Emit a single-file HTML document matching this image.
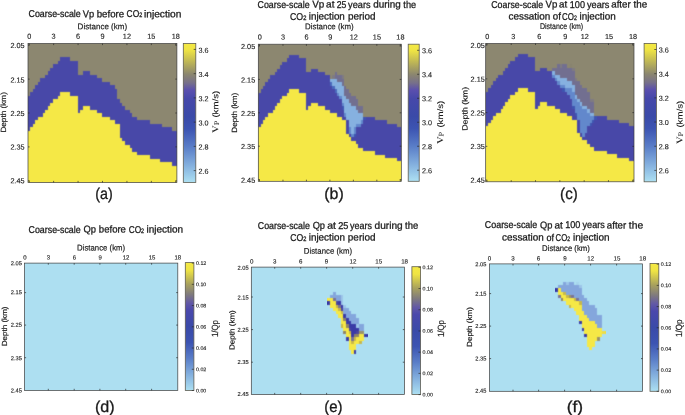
<!DOCTYPE html>
<html><head><meta charset="utf-8"><title>Coarse-scale Vp and Qp</title>
<style>
html,body{margin:0;padding:0;background:#fff;}
body{width:685px;height:415px;overflow:hidden;font-family:"Liberation Sans",sans-serif;}
svg{display:block;}
text{font-family:"Liberation Sans",sans-serif;}
</style></head><body>
<svg width="685" height="415" viewBox="0 0 685 415" style="will-change:transform">
<rect width="685" height="415" fill="#ffffff"/>
<defs>
<filter id="bl" x="-2%" y="-2%" width="104%" height="104%" color-interpolation-filters="sRGB"><feConvolveMatrix order="3" kernelMatrix="1 4 1 4 16 4 1 4 1" divisor="36" edgeMode="duplicate" preserveAlpha="false"/></filter>
<linearGradient id="gv" x1="0" y1="0" x2="0" y2="1">
<stop offset="0.0000" stop-color="#f4e944"/>
<stop offset="0.0464" stop-color="#efe444"/>
<stop offset="0.1339" stop-color="#bdb556"/>
<stop offset="0.2213" stop-color="#8b866f"/>
<stop offset="0.2826" stop-color="#77708a"/>
<stop offset="0.3351" stop-color="#5a4fae"/>
<stop offset="0.3963" stop-color="#4648aa"/>
<stop offset="0.5276" stop-color="#3a4aa8"/>
<stop offset="0.6150" stop-color="#3c54b2"/>
<stop offset="0.7463" stop-color="#5a7ec8"/>
<stop offset="0.8775" stop-color="#84b0de"/>
<stop offset="1.0000" stop-color="#ade0f2"/>
</linearGradient>
<linearGradient id="gq" x1="0" y1="0" x2="0" y2="1">
<stop offset="0.0000" stop-color="#f4e944"/>
<stop offset="0.0583" stop-color="#efe444"/>
<stop offset="0.1667" stop-color="#a9a25c"/>
<stop offset="0.2500" stop-color="#7f7a7e"/>
<stop offset="0.3167" stop-color="#6258a6"/>
<stop offset="0.3750" stop-color="#4a48ac"/>
<stop offset="0.5000" stop-color="#3a4aa8"/>
<stop offset="0.6250" stop-color="#3c54b2"/>
<stop offset="0.7500" stop-color="#5a7ec8"/>
<stop offset="0.8750" stop-color="#84b0de"/>
<stop offset="1.0000" stop-color="#ade0f2"/>
</linearGradient>
</defs>
<g>
<clipPath id="c28"><rect x="28" y="43.5" width="148.9" height="139"/></clipPath>
<g clip-path="url(#c28)"><g filter="url(#bl)">
<rect x="25" y="40.5" width="154.9" height="145" fill="#8c8770"/>
<path d="M27 183.5 L27 96 L27 96 L30 96 L30 92 L33 92 L33 89 L35 89 L35 85 L38 85 L38 82 L40 82 L40 78 L43 78 L43 78 L45 78 L45 75 L48 75 L48 71 L50 71 L50 68 L53 68 L53 64 L55 64 L55 64 L58 64 L58 61 L60 61 L60 57 L63 57 L63 57 L65 57 L65 57 L68 57 L68 57 L70 57 L70 61 L73 61 L73 61 L75 61 L75 61 L78 61 L78 75 L80 75 L80 75 L83 75 L83 71 L85 71 L85 71 L88 71 L88 71 L90 71 L90 75 L93 75 L93 75 L95 75 L95 75 L97 75 L97 78 L100 78 L100 78 L102 78 L102 82 L105 82 L105 82 L107 82 L107 82 L110 82 L110 85 L112 85 L112 85 L115 85 L115 89 L117 89 L117 99 L120 99 L120 103 L122 103 L122 106 L125 106 L125 110 L127 110 L127 110 L130 110 L130 113 L132 113 L132 117 L135 117 L135 117 L137 117 L137 120 L140 120 L140 120 L142 120 L142 120 L145 120 L145 120 L147 120 L147 120 L150 120 L150 124 L152 124 L152 124 L155 124 L155 124 L157 124 L157 124 L160 124 L160 124 L162 124 L162 127 L164 127 L164 127 L167 127 L167 127 L169 127 L169 127 L172 127 L172 131 L174 131 L174 131 L178 131 L178 183.5Z" fill="#4848a8"/>
<path d="M27 183.5 L27 131 L27 131 L30 131 L30 127 L33 127 L33 124 L35 124 L35 120 L38 120 L38 117 L40 117 L40 117 L43 117 L43 113 L45 113 L45 110 L48 110 L48 106 L50 106 L50 103 L53 103 L53 99 L55 99 L55 99 L58 99 L58 96 L60 96 L60 92 L63 92 L63 92 L65 92 L65 92 L68 92 L68 92 L70 92 L70 96 L73 96 L73 96 L75 96 L75 96 L78 96 L78 113 L80 113 L80 110 L83 110 L83 106 L85 106 L85 106 L88 106 L88 106 L90 106 L90 110 L93 110 L93 110 L95 110 L95 110 L97 110 L97 113 L100 113 L100 113 L102 113 L102 117 L105 117 L105 117 L107 117 L107 117 L110 117 L110 120 L112 120 L112 120 L115 120 L115 124 L117 124 L117 124 L120 124 L120 138 L122 138 L122 141 L125 141 L125 145 L127 145 L127 145 L130 145 L130 148 L132 148 L132 152 L135 152 L135 152 L137 152 L137 155 L140 155 L140 155 L142 155 L142 155 L145 155 L145 155 L147 155 L147 155 L150 155 L150 159 L152 159 L152 159 L155 159 L155 159 L157 159 L157 159 L160 159 L160 162 L162 162 L162 162 L164 162 L164 162 L167 162 L167 162 L169 162 L169 162 L172 162 L172 166 L174 166 L174 166 L178 166 L178 183.5Z" fill="#f5e846"/>
</g></g>
<rect x="28" y="43.5" width="148.9" height="139" fill="none" stroke="#3c3c3c" stroke-width="0.7"/>
</g>
<g>
<clipPath id="c258"><rect x="258.3" y="44.2" width="143" height="137.1"/></clipPath>
<g clip-path="url(#c258)"><g filter="url(#bl)">
<rect x="255.3" y="41.2" width="149" height="143.1" fill="#8c8770"/>
<path d="M257 182.3 L257 93 L257 93 L261 93 L261 89 L263 89 L263 86 L265 86 L265 82 L268 82 L268 79 L270 79 L270 75 L273 75 L273 75 L275 75 L275 72 L277 72 L277 69 L280 69 L280 65 L282 65 L282 62 L285 62 L285 62 L287 62 L287 58 L289 58 L289 55 L292 55 L292 55 L294 55 L294 55 L296 55 L296 55 L299 55 L299 58 L301 58 L301 58 L304 58 L304 58 L306 58 L306 72 L308 72 L308 72 L311 72 L311 69 L313 69 L313 69 L316 69 L316 69 L318 69 L318 72 L320 72 L320 72 L323 72 L323 72 L325 72 L325 75 L327 75 L327 75 L330 75 L330 79 L332 79 L332 79 L335 79 L335 79 L337 79 L337 82 L339 82 L339 82 L342 82 L342 86 L344 86 L344 96 L346 96 L346 99 L349 99 L349 103 L351 103 L351 106 L354 106 L354 106 L356 106 L356 110 L358 110 L358 113 L361 113 L361 113 L363 113 L363 117 L366 117 L366 117 L368 117 L368 117 L370 117 L370 117 L373 117 L373 117 L375 117 L375 120 L377 120 L377 120 L380 120 L380 120 L382 120 L382 120 L385 120 L385 120 L387 120 L387 124 L389 124 L389 124 L392 124 L392 124 L394 124 L394 124 L397 124 L397 127 L399 127 L399 127 L402 127 L402 182.3Z" fill="#4848a8"/>
<path d="M335 72H337V75H335ZM335 75H342V79H335ZM337 79H344V82H337ZM342 82H344V86H342ZM344 86H346V89H344ZM344 89H349V93H344ZM344 93H351V96H344ZM346 96H356V99H346ZM349 99H358V103H349ZM351 103H358V106H351ZM356 106H363V110H356ZM358 110H363V113H358Z" fill="#726f90"/>
<path d="M332 75H335V79H332ZM342 75H344V79H342Z" fill="#7f7b82"/>
<path d="M330 79H337V82H330ZM332 82H342V86H332ZM335 86H344V89H335ZM337 89H344V93H337ZM339 93H344V96H339ZM342 96H346V99H342ZM342 99H349V103H342ZM344 103H351V106H344ZM344 106H356V110H344ZM344 110H358V113H344ZM346 113H363V117H346ZM346 117H363V120H346ZM349 120H361V124H349ZM349 124H356V127H349ZM351 127H354V130H351ZM351 130H354V134H351Z" fill="#86b1e0"/>
<path d="M330 82H332V86H330ZM332 86H335V89H332ZM335 89H337V93H335Z" fill="#4a6abc"/>
<path d="M337 93H339V96H337ZM339 96H342V99H339ZM342 103H344V106H342ZM344 113H346V117H344ZM361 120H363V124H361ZM356 124H361V127H356ZM349 127H351V130H349ZM354 127H356V130H354ZM349 130H351V134H349ZM354 130H356V134H354ZM351 134H354V137H351Z" fill="#6288cc"/>
<path d="M342 106H344V110H342ZM363 117H366V120H363ZM354 134H356V137H354Z" fill="#3f55b0"/>
<path d="M257 182.3 L257 127 L257 127 L261 127 L261 124 L263 124 L263 120 L265 120 L265 117 L268 117 L268 113 L270 113 L270 113 L273 113 L273 110 L275 110 L275 106 L277 106 L277 103 L280 103 L280 99 L282 99 L282 96 L285 96 L285 96 L287 96 L287 93 L289 93 L289 89 L292 89 L292 89 L294 89 L294 89 L296 89 L296 89 L299 89 L299 93 L301 93 L301 93 L304 93 L304 93 L306 93 L306 110 L308 110 L308 106 L311 106 L311 103 L313 103 L313 103 L316 103 L316 103 L318 103 L318 106 L320 106 L320 106 L323 106 L323 106 L325 106 L325 110 L327 110 L327 110 L330 110 L330 113 L332 113 L332 113 L335 113 L335 113 L337 113 L337 117 L339 117 L339 117 L342 117 L342 120 L344 120 L344 120 L346 120 L346 134 L349 134 L349 137 L351 137 L351 141 L354 141 L354 141 L356 141 L356 144 L358 144 L358 148 L361 148 L361 148 L363 148 L363 151 L366 151 L366 151 L368 151 L368 151 L370 151 L370 151 L373 151 L373 151 L375 151 L375 155 L377 155 L377 155 L380 155 L380 155 L382 155 L382 155 L385 155 L385 158 L387 158 L387 158 L389 158 L389 158 L392 158 L392 158 L394 158 L394 158 L397 158 L397 161 L399 161 L399 161 L402 161 L402 182.3Z" fill="#f5e846"/>
</g></g>
<rect x="258.3" y="44.2" width="143" height="137.1" fill="none" stroke="#3c3c3c" stroke-width="0.7"/>
</g>
<g>
<clipPath id="c485"><rect x="485.7" y="43.4" width="148.3" height="138.4"/></clipPath>
<g clip-path="url(#c485)"><g filter="url(#bl)">
<rect x="482.7" y="40.4" width="154.3" height="144.4" fill="#8c8770"/>
<path d="M485 182.8 L485 92 L485 92 L488 92 L488 88 L491 88 L491 85 L493 85 L493 81 L496 81 L496 78 L498 78 L498 75 L501 75 L501 75 L503 75 L503 71 L505 71 L505 68 L508 68 L508 64 L510 64 L510 61 L513 61 L513 61 L515 61 L515 57 L518 57 L518 54 L520 54 L520 54 L523 54 L523 54 L525 54 L525 54 L528 54 L528 57 L530 57 L530 57 L533 57 L533 57 L535 57 L535 71 L538 71 L538 71 L540 71 L540 68 L543 68 L543 68 L545 68 L545 68 L547 68 L547 71 L550 71 L550 71 L552 71 L552 71 L555 71 L555 75 L557 75 L557 75 L560 75 L560 78 L562 78 L562 78 L565 78 L565 78 L567 78 L567 81 L570 81 L570 81 L572 81 L572 85 L575 85 L575 95 L577 95 L577 99 L580 99 L580 102 L582 102 L582 106 L585 106 L585 106 L587 106 L587 109 L590 109 L590 113 L592 113 L592 113 L594 113 L594 116 L597 116 L597 116 L599 116 L599 116 L602 116 L602 116 L604 116 L604 116 L607 116 L607 120 L609 120 L609 120 L612 120 L612 120 L614 120 L614 120 L617 120 L617 120 L619 120 L619 123 L622 123 L622 123 L624 123 L624 123 L627 123 L627 123 L629 123 L629 126 L632 126 L632 126 L635 126 L635 182.8Z" fill="#4848a8"/>
<path d="M557 64H560V68H557ZM562 64H567V68H562ZM552 68H572V71H552ZM555 71H575V75H555ZM560 75H575V78H560ZM567 78H575V81H567ZM572 81H580V85H572ZM575 85H582V88H575ZM575 88H587V92H575ZM575 92H590V95H575ZM577 95H590V99H577ZM580 99H590V102H580ZM582 102H594V106H582ZM587 106H594V109H587ZM590 109H594V113H590Z" fill="#726f90"/>
<path d="M560 64H562V68H560ZM572 68H575V71H572ZM575 78H577V81H575ZM590 99H594V102H590Z" fill="#7f7b82"/>
<path d="M570 64H572V68H570Z" fill="#88836f"/>
<path d="M552 71H555V75H552ZM555 75H560V78H555ZM557 78H567V81H557ZM560 81H572V85H560ZM565 85H575V88H565ZM572 88H575V92H572ZM575 95H577V99H575ZM577 99H580V102H577ZM580 102H582V106H580ZM582 106H587V109H582ZM587 109H590V113H587ZM590 113H594V116H590Z" fill="#86b1e0"/>
<path d="M552 75H555V78H552ZM555 78H557V81H555ZM557 81H560V85H557ZM560 85H565V88H560ZM565 88H572V92H565ZM567 92H575V95H567ZM570 95H575V99H570ZM572 99H577V102H572ZM572 102H580V106H572ZM575 106H582V109H575ZM575 109H587V113H575ZM577 113H590V116H577ZM577 116H594V120H577ZM580 120H592V123H580ZM580 123H590V126H580ZM580 126H587V130H580ZM580 130H587V133H580ZM582 133H585V137H582Z" fill="#6288cc"/>
<path d="M562 88H565V92H562ZM572 106H575V109H572ZM575 113H577V116H575ZM594 116H597V120H594ZM592 120H594V123H592ZM590 123H592V126H590Z" fill="#3f55b0"/>
<path d="M485 182.8 L485 126 L485 126 L488 126 L488 123 L491 123 L491 120 L493 120 L493 116 L496 116 L496 113 L498 113 L498 113 L501 113 L501 109 L503 109 L503 106 L505 106 L505 102 L508 102 L508 99 L510 99 L510 95 L513 95 L513 95 L515 95 L515 92 L518 92 L518 88 L520 88 L520 88 L523 88 L523 88 L525 88 L525 88 L528 88 L528 92 L530 92 L530 92 L533 92 L533 92 L535 92 L535 109 L538 109 L538 106 L540 106 L540 102 L543 102 L543 102 L545 102 L545 102 L547 102 L547 106 L550 106 L550 106 L552 106 L552 106 L555 106 L555 109 L557 109 L557 109 L560 109 L560 113 L562 113 L562 113 L565 113 L565 113 L567 113 L567 116 L570 116 L570 116 L572 116 L572 120 L575 120 L575 120 L577 120 L577 133 L580 133 L580 137 L582 137 L582 140 L585 140 L585 140 L587 140 L587 144 L590 144 L590 147 L592 147 L592 147 L594 147 L594 151 L597 151 L597 151 L599 151 L599 151 L602 151 L602 151 L604 151 L604 151 L607 151 L607 154 L609 154 L609 154 L612 154 L612 154 L614 154 L614 154 L617 154 L617 158 L619 158 L619 158 L622 158 L622 158 L624 158 L624 158 L627 158 L627 158 L629 158 L629 161 L632 161 L632 161 L635 161 L635 182.8Z" fill="#f5e846"/>
</g></g>
<rect x="485.7" y="43.4" width="148.3" height="138.4" fill="none" stroke="#3c3c3c" stroke-width="0.7"/>
</g>
<path d="M29.2 43.5v1.6 M29.2 182.5v-1.6 M53.63 43.5v1.6 M53.63 182.5v-1.6 M78.07 43.5v1.6 M78.07 182.5v-1.6 M102.5 43.5v1.6 M102.5 182.5v-1.6 M126.93 43.5v1.6 M126.93 182.5v-1.6 M151.37 43.5v1.6 M151.37 182.5v-1.6 M175.8 43.5v1.6 M175.8 182.5v-1.6 M28 45.2h1.6 M176.9 45.2h-1.6 M28 79.1h1.6 M176.9 79.1h-1.6 M28 113h1.6 M176.9 113h-1.6 M28 146.9h1.6 M176.9 146.9h-1.6 M28 180.8h1.6 M176.9 180.8h-1.6 " stroke="#2a2a2a" stroke-width="0.7" fill="none"/>
<path d="M259.5 44.2v1.6 M259.5 181.3v-1.6 M282.97 44.2v1.6 M282.97 181.3v-1.6 M306.43 44.2v1.6 M306.43 181.3v-1.6 M329.9 44.2v1.6 M329.9 181.3v-1.6 M353.37 44.2v1.6 M353.37 181.3v-1.6 M376.83 44.2v1.6 M376.83 181.3v-1.6 M400.3 44.2v1.6 M400.3 181.3v-1.6 M258.3 46h1.6 M401.3 46h-1.6 M258.3 79.4h1.6 M401.3 79.4h-1.6 M258.3 112.8h1.6 M401.3 112.8h-1.6 M258.3 146.2h1.6 M401.3 146.2h-1.6 M258.3 179.6h1.6 M401.3 179.6h-1.6 " stroke="#2a2a2a" stroke-width="0.7" fill="none"/>
<path d="M486.9 43.4v1.6 M486.9 181.8v-1.6 M511.22 43.4v1.6 M511.22 181.8v-1.6 M535.53 43.4v1.6 M535.53 181.8v-1.6 M559.85 43.4v1.6 M559.85 181.8v-1.6 M584.17 43.4v1.6 M584.17 181.8v-1.6 M608.48 43.4v1.6 M608.48 181.8v-1.6 M632.8 43.4v1.6 M632.8 181.8v-1.6 M485.7 45.1h1.6 M634 45.1h-1.6 M485.7 78.85h1.6 M634 78.85h-1.6 M485.7 112.6h1.6 M634 112.6h-1.6 M485.7 146.35h1.6 M634 146.35h-1.6 M485.7 180.1h1.6 M634 180.1h-1.6 " stroke="#2a2a2a" stroke-width="0.7" fill="none"/>
<rect x="183.3" y="43.5" width="12.5" height="139" fill="url(#gv)" stroke="#5e5c50" stroke-width="0.8"/>
<path d="M195.8 49.4h-2.1 M195.8 73.64h-2.1 M195.8 97.88h-2.1 M195.8 122.12h-2.1 M195.8 146.36h-2.1 M195.8 170.6h-2.1 " stroke="#2a2a2a" stroke-width="0.7" fill="none"/>
<text transform="translate(198.6 52.66) rotate(0.03)" font-family="Liberation Sans" font-size="7.2" fill="#1a1a1a" stroke="#1a1a1a" stroke-width="0.12">3.6</text>
<text transform="translate(198.6 76.9) rotate(0.03)" font-family="Liberation Sans" font-size="7.2" fill="#1a1a1a" stroke="#1a1a1a" stroke-width="0.12">3.4</text>
<text transform="translate(198.6 101.14) rotate(0.03)" font-family="Liberation Sans" font-size="7.2" fill="#1a1a1a" stroke="#1a1a1a" stroke-width="0.12">3.2</text>
<text transform="translate(198.6 125.38) rotate(0.03)" font-family="Liberation Sans" font-size="7.2" fill="#1a1a1a" stroke="#1a1a1a" stroke-width="0.12">3.0</text>
<text transform="translate(198.6 149.62) rotate(0.03)" font-family="Liberation Sans" font-size="7.2" fill="#1a1a1a" stroke="#1a1a1a" stroke-width="0.12">2.8</text>
<text transform="translate(198.6 173.86) rotate(0.03)" font-family="Liberation Sans" font-size="7.2" fill="#1a1a1a" stroke="#1a1a1a" stroke-width="0.12">2.6</text>
<rect x="408.2" y="44.2" width="11" height="137.1" fill="url(#gv)" stroke="#5e5c50" stroke-width="0.8"/>
<path d="M419.2 50.3h-2.1 M419.2 74.28h-2.1 M419.2 98.26h-2.1 M419.2 122.24h-2.1 M419.2 146.22h-2.1 M419.2 170.2h-2.1 " stroke="#2a2a2a" stroke-width="0.7" fill="none"/>
<text transform="translate(422 53.26) rotate(0.03)" font-family="Liberation Sans" font-size="7.2" fill="#1a1a1a" stroke="#1a1a1a" stroke-width="0.12">3.6</text>
<text transform="translate(422 77.24) rotate(0.03)" font-family="Liberation Sans" font-size="7.2" fill="#1a1a1a" stroke="#1a1a1a" stroke-width="0.12">3.4</text>
<text transform="translate(422 101.22) rotate(0.03)" font-family="Liberation Sans" font-size="7.2" fill="#1a1a1a" stroke="#1a1a1a" stroke-width="0.12">3.2</text>
<text transform="translate(422 125.2) rotate(0.03)" font-family="Liberation Sans" font-size="7.2" fill="#1a1a1a" stroke="#1a1a1a" stroke-width="0.12">3.0</text>
<text transform="translate(422 149.18) rotate(0.03)" font-family="Liberation Sans" font-size="7.2" fill="#1a1a1a" stroke="#1a1a1a" stroke-width="0.12">2.8</text>
<text transform="translate(422 173.16) rotate(0.03)" font-family="Liberation Sans" font-size="7.2" fill="#1a1a1a" stroke="#1a1a1a" stroke-width="0.12">2.6</text>
<rect x="644.1" y="43.4" width="12.3" height="138.4" fill="url(#gv)" stroke="#5e5c50" stroke-width="0.8"/>
<path d="M656.4 49.5h-2.1 M656.4 73.68h-2.1 M656.4 97.86h-2.1 M656.4 122.04h-2.1 M656.4 146.22h-2.1 M656.4 170.4h-2.1 " stroke="#2a2a2a" stroke-width="0.7" fill="none"/>
<text transform="translate(658.7 52.46) rotate(0.03)" font-family="Liberation Sans" font-size="7.2" fill="#1a1a1a" stroke="#1a1a1a" stroke-width="0.12">3.6</text>
<text transform="translate(658.7 76.64) rotate(0.03)" font-family="Liberation Sans" font-size="7.2" fill="#1a1a1a" stroke="#1a1a1a" stroke-width="0.12">3.4</text>
<text transform="translate(658.7 100.82) rotate(0.03)" font-family="Liberation Sans" font-size="7.2" fill="#1a1a1a" stroke="#1a1a1a" stroke-width="0.12">3.2</text>
<text transform="translate(658.7 125) rotate(0.03)" font-family="Liberation Sans" font-size="7.2" fill="#1a1a1a" stroke="#1a1a1a" stroke-width="0.12">3.0</text>
<text transform="translate(658.7 149.18) rotate(0.03)" font-family="Liberation Sans" font-size="7.2" fill="#1a1a1a" stroke="#1a1a1a" stroke-width="0.12">2.8</text>
<text transform="translate(658.7 173.36) rotate(0.03)" font-family="Liberation Sans" font-size="7.2" fill="#1a1a1a" stroke="#1a1a1a" stroke-width="0.12">2.6</text>
<rect x="24.5" y="263.1" width="153.3" height="127.3" fill="#addff1"/>
<rect x="24.5" y="263.1" width="153.3" height="127.3" fill="none" stroke="#3c3c3c" stroke-width="0.7"/>
<rect x="251.3" y="267.1" width="153.1" height="127.4" fill="#addff1"/>
<g filter="url(#bl)">
<path d="M333 292H336V295H333ZM330 295H341V298H330ZM336 298H341V301H336ZM343 308H349V311H343ZM343 311H351V314H343ZM346 314H356V318H346ZM349 318H359V321H349ZM351 321H359V324H351ZM359 324H364V328H359ZM359 328H364V331H359Z" fill="#84a6dc"/>
<path d="M341 295H343V298H341ZM341 298H343V301H341ZM341 301H343V305H341ZM343 305H346V308H343ZM356 324H359V328H356Z" fill="#9cc4e8"/>
<path d="M328 298H333V301H328ZM330 301H336V305H330ZM330 305H336V308H330ZM333 308H338V311H333ZM336 311H341V314H336ZM338 314H343V318H338ZM341 318H343V321H341ZM341 321H346V324H341ZM343 324H346V328H343ZM343 328H349V331H343ZM346 331H349V334H346ZM346 334H351V337H346ZM359 334H364V337H359ZM349 337H351V341H349ZM356 337H364V341H356ZM349 341H351V344H349ZM354 341H359V344H354ZM349 344H356V347H349ZM349 347H356V350H349ZM351 350H354V354H351Z" fill="#f5e846"/>
<path d="M333 298H336V301H333ZM338 305H341V308H338ZM351 337H354V341H351Z" fill="#7a7494"/>
<path d="M328 301H330V305H328ZM338 301H341V305H338ZM341 305H343V308H341ZM343 314H346V318H343ZM346 318H349V321H346ZM346 321H351V324H346ZM349 324H356V328H349ZM351 328H359V331H351ZM351 331H356V334H351ZM351 334H354V337H351ZM364 334H367V337H364ZM346 337H349V341H346ZM354 350H356V354H354Z" fill="#3a3aa6"/>
<path d="M336 301H338V305H336ZM341 308H343V311H341ZM349 328H351V331H349ZM356 331H359V334H356Z" fill="#4c469e"/>
<path d="M336 305H338V308H336ZM338 308H341V311H338ZM341 311H343V314H341ZM341 324H343V328H341ZM349 331H351V334H349ZM354 337H356V341H354ZM351 341H354V344H351ZM359 341H362V344H359Z" fill="#c8b84a"/>
<path d="M343 318H346V321H343ZM346 324H349V328H346ZM343 331H346V334H343ZM354 334H359V337H354Z" fill="#8e8468"/>
<path d="M359 331H364V334H359Z" fill="#9a9268"/>
</g>
<rect x="251.3" y="267.1" width="153.1" height="127.4" fill="none" stroke="#3c3c3c" stroke-width="0.7"/>
<rect x="489.5" y="263.9" width="153.1" height="127.4" fill="#addff1"/>
<g filter="url(#bl)">
<path d="M563 282H566V285H563ZM569 282H574V285H569ZM558 285H579V288H558ZM561 288H582V292H561ZM566 292H582V295H566ZM574 295H584V298H574ZM579 298H587V301H579ZM582 301H589V305H582ZM582 305H595V308H582ZM582 308H597V311H582ZM584 311H597V315H584ZM587 315H602V318H587ZM589 318H602V321H589ZM595 321H602V324H595ZM597 324H602V328H597Z" fill="#84a6dc"/>
<path d="M566 282H569V285H566ZM579 285H582V288H579Z" fill="#9cc4e8"/>
<path d="M576 282H579V285H576Z" fill="#a6d4ec"/>
<path d="M556 288H558V292H556ZM579 321H582V324H579ZM582 328H584V331H582ZM584 334H587V337H584Z" fill="#3a3aa6"/>
<path d="M558 288H561V292H558ZM558 292H563V295H558ZM561 295H566V298H561ZM563 298H574V301H563ZM566 301H579V305H566ZM571 305H582V308H571ZM574 308H582V311H574ZM576 311H584V315H576ZM579 315H587V318H579ZM579 318H589V321H579ZM582 321H595V324H582ZM582 324H597V328H582ZM584 328H602V331H584ZM584 331H602V334H584ZM587 334H602V337H587ZM587 337H597V341H587ZM587 341H595V344H587ZM587 344H595V347H587ZM589 347H592V350H589Z" fill="#f5e846"/>
<path d="M563 292H566V295H563ZM566 295H569V298H566ZM574 298H576V301H574ZM579 301H582V305H579ZM569 305H571V308H569Z" fill="#c8b84a"/>
<path d="M558 295H561V298H558ZM571 295H574V298H571ZM576 298H579V301H576Z" fill="#7a7494"/>
<path d="M569 295H571V298H569ZM597 337H600V341H597Z" fill="#9a9268"/>
<path d="M561 298H563V301H561Z" fill="#8e8468"/>
<path d="M602 331H605V334H602Z" fill="#ecdc48"/>
</g>
<rect x="489.5" y="263.9" width="153.1" height="127.4" fill="none" stroke="#3c3c3c" stroke-width="0.7"/>
<path d="M48.3 263.1v1.6 M48.3 390.4v-1.6 M74.2 263.1v1.6 M74.2 390.4v-1.6 M99.9 263.1v1.6 M99.9 390.4v-1.6 M125.7 263.1v1.6 M125.7 390.4v-1.6 M151.6 263.1v1.6 M151.6 390.4v-1.6 M24.5 292.6h1.6 M177.8 292.6h-1.6 M24.5 325.1h1.6 M177.8 325.1h-1.6 M24.5 357.7h1.6 M177.8 357.7h-1.6 " stroke="#2a2a2a" stroke-width="0.7" fill="none"/>
<path d="M274.7 267.1v1.6 M274.7 394.5v-1.6 M300.7 267.1v1.6 M300.7 394.5v-1.6 M326.6 267.1v1.6 M326.6 394.5v-1.6 M352.7 267.1v1.6 M352.7 394.5v-1.6 M378.6 267.1v1.6 M378.6 394.5v-1.6 M251.3 297h1.6 M404.4 297h-1.6 M251.3 329.6h1.6 M404.4 329.6h-1.6 M251.3 362.2h1.6 M404.4 362.2h-1.6 " stroke="#2a2a2a" stroke-width="0.7" fill="none"/>
<path d="M513 263.9v1.6 M513 391.3v-1.6 M538.6 263.9v1.6 M538.6 391.3v-1.6 M564.6 263.9v1.6 M564.6 391.3v-1.6 M590.6 263.9v1.6 M590.6 391.3v-1.6 M616.6 263.9v1.6 M616.6 391.3v-1.6 M489.5 293.6h1.6 M642.6 293.6h-1.6 M489.5 326.1h1.6 M642.6 326.1h-1.6 M489.5 358.6h1.6 M642.6 358.6h-1.6 " stroke="#2a2a2a" stroke-width="0.7" fill="none"/>
<rect x="185.3" y="262.6" width="8.6" height="127.9" fill="url(#gq)" stroke="#5e5c50" stroke-width="0.8"/>
<path d="M193.9 263.1h-2.1 M193.9 284.33h-2.1 M193.9 305.57h-2.1 M193.9 326.8h-2.1 M193.9 348.03h-2.1 M193.9 369.27h-2.1 M193.9 390.5h-2.1 " stroke="#2a2a2a" stroke-width="0.7" fill="none"/>
<text transform="translate(196 264.98) rotate(0.03)" font-family="Liberation Sans" font-size="5.3" fill="#1a1a1a" stroke="#1a1a1a" stroke-width="0.12">0.12</text>
<text transform="translate(196 286.21) rotate(0.03)" font-family="Liberation Sans" font-size="5.3" fill="#1a1a1a" stroke="#1a1a1a" stroke-width="0.12">0.10</text>
<text transform="translate(196 307.45) rotate(0.03)" font-family="Liberation Sans" font-size="5.3" fill="#1a1a1a" stroke="#1a1a1a" stroke-width="0.12">0.08</text>
<text transform="translate(196 328.68) rotate(0.03)" font-family="Liberation Sans" font-size="5.3" fill="#1a1a1a" stroke="#1a1a1a" stroke-width="0.12">0.06</text>
<text transform="translate(196 349.91) rotate(0.03)" font-family="Liberation Sans" font-size="5.3" fill="#1a1a1a" stroke="#1a1a1a" stroke-width="0.12">0.04</text>
<text transform="translate(196 371.15) rotate(0.03)" font-family="Liberation Sans" font-size="5.3" fill="#1a1a1a" stroke="#1a1a1a" stroke-width="0.12">0.02</text>
<text transform="translate(196 392.38) rotate(0.03)" font-family="Liberation Sans" font-size="5.3" fill="#1a1a1a" stroke="#1a1a1a" stroke-width="0.12">0.00</text>
<rect x="411.9" y="266.7" width="8.7" height="127.8" fill="url(#gq)" stroke="#5e5c50" stroke-width="0.8"/>
<path d="M420.6 267.3h-2.1 M420.6 288.52h-2.1 M420.6 309.73h-2.1 M420.6 330.95h-2.1 M420.6 352.17h-2.1 M420.6 373.38h-2.1 M420.6 394.6h-2.1 " stroke="#2a2a2a" stroke-width="0.7" fill="none"/>
<text transform="translate(422.6 269.18) rotate(0.03)" font-family="Liberation Sans" font-size="5.3" fill="#1a1a1a" stroke="#1a1a1a" stroke-width="0.12">0.12</text>
<text transform="translate(422.6 290.4) rotate(0.03)" font-family="Liberation Sans" font-size="5.3" fill="#1a1a1a" stroke="#1a1a1a" stroke-width="0.12">0.10</text>
<text transform="translate(422.6 311.61) rotate(0.03)" font-family="Liberation Sans" font-size="5.3" fill="#1a1a1a" stroke="#1a1a1a" stroke-width="0.12">0.08</text>
<text transform="translate(422.6 332.83) rotate(0.03)" font-family="Liberation Sans" font-size="5.3" fill="#1a1a1a" stroke="#1a1a1a" stroke-width="0.12">0.06</text>
<text transform="translate(422.6 354.05) rotate(0.03)" font-family="Liberation Sans" font-size="5.3" fill="#1a1a1a" stroke="#1a1a1a" stroke-width="0.12">0.04</text>
<text transform="translate(422.6 375.26) rotate(0.03)" font-family="Liberation Sans" font-size="5.3" fill="#1a1a1a" stroke="#1a1a1a" stroke-width="0.12">0.02</text>
<text transform="translate(422.6 396.48) rotate(0.03)" font-family="Liberation Sans" font-size="5.3" fill="#1a1a1a" stroke="#1a1a1a" stroke-width="0.12">0.00</text>
<rect x="650" y="263.5" width="8.8" height="127.8" fill="url(#gq)" stroke="#5e5c50" stroke-width="0.8"/>
<path d="M658.8 264.2h-2.1 M658.8 285.38h-2.1 M658.8 306.57h-2.1 M658.8 327.75h-2.1 M658.8 348.93h-2.1 M658.8 370.12h-2.1 M658.8 391.3h-2.1 " stroke="#2a2a2a" stroke-width="0.7" fill="none"/>
<text transform="translate(660.8 266.08) rotate(0.03)" font-family="Liberation Sans" font-size="5.3" fill="#1a1a1a" stroke="#1a1a1a" stroke-width="0.12">0.12</text>
<text transform="translate(660.8 287.26) rotate(0.03)" font-family="Liberation Sans" font-size="5.3" fill="#1a1a1a" stroke="#1a1a1a" stroke-width="0.12">0.10</text>
<text transform="translate(660.8 308.45) rotate(0.03)" font-family="Liberation Sans" font-size="5.3" fill="#1a1a1a" stroke="#1a1a1a" stroke-width="0.12">0.08</text>
<text transform="translate(660.8 329.63) rotate(0.03)" font-family="Liberation Sans" font-size="5.3" fill="#1a1a1a" stroke="#1a1a1a" stroke-width="0.12">0.06</text>
<text transform="translate(660.8 350.81) rotate(0.03)" font-family="Liberation Sans" font-size="5.3" fill="#1a1a1a" stroke="#1a1a1a" stroke-width="0.12">0.04</text>
<text transform="translate(660.8 372) rotate(0.03)" font-family="Liberation Sans" font-size="5.3" fill="#1a1a1a" stroke="#1a1a1a" stroke-width="0.12">0.02</text>
<text transform="translate(660.8 393.18) rotate(0.03)" font-family="Liberation Sans" font-size="5.3" fill="#1a1a1a" stroke="#1a1a1a" stroke-width="0.12">0.00</text>
<text transform="translate(28.55 17.2) rotate(0.03)" font-family="Liberation Sans" font-size="9.9" fill="#1a1a1a" textLength="52.2" lengthAdjust="spacingAndGlyphs" stroke="#1a1a1a" stroke-width="0.28">Coarse-scale</text>
<text transform="translate(82.85 17.2) rotate(0.03)" font-family="Liberation Sans" font-size="9.9" fill="#1a1a1a" textLength="11.4" lengthAdjust="spacingAndGlyphs" stroke="#1a1a1a" stroke-width="0.28">Vp</text>
<text transform="translate(96.75 17.2) rotate(0.03)" font-family="Liberation Sans" font-size="9.9" fill="#1a1a1a" textLength="27.4" lengthAdjust="spacingAndGlyphs" stroke="#1a1a1a" stroke-width="0.28">before</text>
<text transform="translate(126.55 17.2) rotate(0.03)" font-family="Liberation Sans" font-size="9.9" fill="#1a1a1a" textLength="15.7" lengthAdjust="spacingAndGlyphs" stroke="#1a1a1a" stroke-width="0.28">CO<tspan font-size="65%">2</tspan></text>
<text transform="translate(144.05 17.2) rotate(0.03)" font-family="Liberation Sans" font-size="9.9" fill="#1a1a1a" textLength="37.3" lengthAdjust="spacingAndGlyphs" stroke="#1a1a1a" stroke-width="0.28">injection</text>
<text transform="translate(77.6 29.3) rotate(0.03)" font-family="Liberation Sans" font-size="8.2" fill="#1a1a1a" textLength="49.6" lengthAdjust="spacingAndGlyphs" stroke="#1a1a1a" stroke-width="0.18">Distance (km)</text>
<text transform="translate(257.55 7.6) rotate(0.03)" font-family="Liberation Sans" font-size="9.9" fill="#1a1a1a" textLength="52.1" lengthAdjust="spacingAndGlyphs" stroke="#1a1a1a" stroke-width="0.28">Coarse-scale</text>
<text transform="translate(312.15 7.6) rotate(0.03)" font-family="Liberation Sans" font-size="9.9" fill="#1a1a1a" textLength="12.1" lengthAdjust="spacingAndGlyphs" stroke="#1a1a1a" stroke-width="0.28">Vp</text>
<text transform="translate(326.05 7.6) rotate(0.03)" font-family="Liberation Sans" font-size="9.9" fill="#1a1a1a" textLength="8.4" lengthAdjust="spacingAndGlyphs" stroke="#1a1a1a" stroke-width="0.28">at</text>
<text transform="translate(336.65 7.6) rotate(0.03)" font-family="Liberation Sans" font-size="9.9" fill="#1a1a1a" textLength="9.7" lengthAdjust="spacingAndGlyphs" stroke="#1a1a1a" stroke-width="0.28">25</text>
<text transform="translate(348.05 7.6) rotate(0.03)" font-family="Liberation Sans" font-size="9.9" fill="#1a1a1a" textLength="22.5" lengthAdjust="spacingAndGlyphs" stroke="#1a1a1a" stroke-width="0.28">years</text>
<text transform="translate(373.15 7.6) rotate(0.03)" font-family="Liberation Sans" font-size="9.9" fill="#1a1a1a" textLength="27.5" lengthAdjust="spacingAndGlyphs" stroke="#1a1a1a" stroke-width="0.28">during</text>
<text transform="translate(403.35 7.6) rotate(0.03)" font-family="Liberation Sans" font-size="9.9" fill="#1a1a1a" textLength="12.8" lengthAdjust="spacingAndGlyphs" stroke="#1a1a1a" stroke-width="0.28">the</text>
<text transform="translate(289.95 19.6) rotate(0.03)" font-family="Liberation Sans" font-size="9.9" fill="#1a1a1a" textLength="16.4" lengthAdjust="spacingAndGlyphs" stroke="#1a1a1a" stroke-width="0.28">CO<tspan font-size="65%">2</tspan></text>
<text transform="translate(308.75 19.6) rotate(0.03)" font-family="Liberation Sans" font-size="9.9" fill="#1a1a1a" textLength="36.1" lengthAdjust="spacingAndGlyphs" stroke="#1a1a1a" stroke-width="0.28">injection</text>
<text transform="translate(348.05 19.6) rotate(0.03)" font-family="Liberation Sans" font-size="9.9" fill="#1a1a1a" textLength="27.5" lengthAdjust="spacingAndGlyphs" stroke="#1a1a1a" stroke-width="0.28">period</text>
<text transform="translate(305 29.3) rotate(0.03)" font-family="Liberation Sans" font-size="8.2" fill="#1a1a1a" textLength="48.7" lengthAdjust="spacingAndGlyphs" stroke="#1a1a1a" stroke-width="0.18">Distance (km)</text>
<text transform="translate(491.25 7.6) rotate(0.03)" font-family="Liberation Sans" font-size="9.9" fill="#1a1a1a" textLength="52" lengthAdjust="spacingAndGlyphs" stroke="#1a1a1a" stroke-width="0.28">Coarse-scale</text>
<text transform="translate(545.45 7.6) rotate(0.03)" font-family="Liberation Sans" font-size="9.9" fill="#1a1a1a" textLength="11.8" lengthAdjust="spacingAndGlyphs" stroke="#1a1a1a" stroke-width="0.28">Vp</text>
<text transform="translate(558.95 7.6) rotate(0.03)" font-family="Liberation Sans" font-size="9.9" fill="#1a1a1a" textLength="8.2" lengthAdjust="spacingAndGlyphs" stroke="#1a1a1a" stroke-width="0.28">at</text>
<text transform="translate(569.75 7.6) rotate(0.03)" font-family="Liberation Sans" font-size="9.9" fill="#1a1a1a" textLength="15.2" lengthAdjust="spacingAndGlyphs" stroke="#1a1a1a" stroke-width="0.28">100</text>
<text transform="translate(586.95 7.6) rotate(0.03)" font-family="Liberation Sans" font-size="9.9" fill="#1a1a1a" textLength="22.5" lengthAdjust="spacingAndGlyphs" stroke="#1a1a1a" stroke-width="0.28">years</text>
<text transform="translate(611.25 7.6) rotate(0.03)" font-family="Liberation Sans" font-size="9.9" fill="#1a1a1a" textLength="19.5" lengthAdjust="spacingAndGlyphs" stroke="#1a1a1a" stroke-width="0.28">after</text>
<text transform="translate(633.45 7.6) rotate(0.03)" font-family="Liberation Sans" font-size="9.9" fill="#1a1a1a" textLength="13.7" lengthAdjust="spacingAndGlyphs" stroke="#1a1a1a" stroke-width="0.28">the</text>
<text transform="translate(508.45 19.6) rotate(0.03)" font-family="Liberation Sans" font-size="9.9" fill="#1a1a1a" textLength="41.9" lengthAdjust="spacingAndGlyphs" stroke="#1a1a1a" stroke-width="0.28">cessation</text>
<text transform="translate(552.75 19.6) rotate(0.03)" font-family="Liberation Sans" font-size="9.9" fill="#1a1a1a" textLength="8.1" lengthAdjust="spacingAndGlyphs" stroke="#1a1a1a" stroke-width="0.28">of</text>
<text transform="translate(562.05 19.6) rotate(0.03)" font-family="Liberation Sans" font-size="9.9" fill="#1a1a1a" textLength="14.8" lengthAdjust="spacingAndGlyphs" stroke="#1a1a1a" stroke-width="0.28">CO<tspan font-size="65%">2</tspan></text>
<text transform="translate(579.45 19.6) rotate(0.03)" font-family="Liberation Sans" font-size="9.9" fill="#1a1a1a" textLength="36.3" lengthAdjust="spacingAndGlyphs" stroke="#1a1a1a" stroke-width="0.28">injection</text>
<text transform="translate(540 29.3) rotate(0.03)" font-family="Liberation Sans" font-size="8.2" fill="#1a1a1a" textLength="43.2" lengthAdjust="spacingAndGlyphs" stroke="#1a1a1a" stroke-width="0.18">Distance (km)</text>
<text transform="translate(28.55 232.5) rotate(0.03)" font-family="Liberation Sans" font-size="9.9" fill="#1a1a1a" textLength="52.1" lengthAdjust="spacingAndGlyphs" stroke="#1a1a1a" stroke-width="0.28">Coarse-scale</text>
<text transform="translate(83.55 232.5) rotate(0.03)" font-family="Liberation Sans" font-size="9.9" fill="#1a1a1a" textLength="12.5" lengthAdjust="spacingAndGlyphs" stroke="#1a1a1a" stroke-width="0.28">Qp</text>
<text transform="translate(98.85 232.5) rotate(0.03)" font-family="Liberation Sans" font-size="9.9" fill="#1a1a1a" textLength="27.1" lengthAdjust="spacingAndGlyphs" stroke="#1a1a1a" stroke-width="0.28">before</text>
<text transform="translate(128.65 232.5) rotate(0.03)" font-family="Liberation Sans" font-size="9.9" fill="#1a1a1a" textLength="15.5" lengthAdjust="spacingAndGlyphs" stroke="#1a1a1a" stroke-width="0.28">CO<tspan font-size="65%">2</tspan></text>
<text transform="translate(146.45 232.5) rotate(0.03)" font-family="Liberation Sans" font-size="9.9" fill="#1a1a1a" textLength="36.7" lengthAdjust="spacingAndGlyphs" stroke="#1a1a1a" stroke-width="0.28">injection</text>
<text transform="translate(77.1 250.5) rotate(0.03)" font-family="Liberation Sans" font-size="8.2" fill="#1a1a1a" textLength="48" lengthAdjust="spacingAndGlyphs" stroke="#1a1a1a" stroke-width="0.18">Distance (km)</text>
<text transform="translate(257.75 228.7) rotate(0.03)" font-family="Liberation Sans" font-size="9.9" fill="#1a1a1a" textLength="52.1" lengthAdjust="spacingAndGlyphs" stroke="#1a1a1a" stroke-width="0.28">Coarse-scale</text>
<text transform="translate(312.65 228.7) rotate(0.03)" font-family="Liberation Sans" font-size="9.9" fill="#1a1a1a" textLength="12.4" lengthAdjust="spacingAndGlyphs" stroke="#1a1a1a" stroke-width="0.28">Qp</text>
<text transform="translate(327.25 228.7) rotate(0.03)" font-family="Liberation Sans" font-size="9.9" fill="#1a1a1a" textLength="8.8" lengthAdjust="spacingAndGlyphs" stroke="#1a1a1a" stroke-width="0.28">at</text>
<text transform="translate(338.15 228.7) rotate(0.03)" font-family="Liberation Sans" font-size="9.9" fill="#1a1a1a" textLength="10.2" lengthAdjust="spacingAndGlyphs" stroke="#1a1a1a" stroke-width="0.28">25</text>
<text transform="translate(350.05 228.7) rotate(0.03)" font-family="Liberation Sans" font-size="9.9" fill="#1a1a1a" textLength="21.9" lengthAdjust="spacingAndGlyphs" stroke="#1a1a1a" stroke-width="0.28">years</text>
<text transform="translate(374.55 228.7) rotate(0.03)" font-family="Liberation Sans" font-size="9.9" fill="#1a1a1a" textLength="28.1" lengthAdjust="spacingAndGlyphs" stroke="#1a1a1a" stroke-width="0.28">during</text>
<text transform="translate(405.05 228.7) rotate(0.03)" font-family="Liberation Sans" font-size="9.9" fill="#1a1a1a" textLength="13.1" lengthAdjust="spacingAndGlyphs" stroke="#1a1a1a" stroke-width="0.28">the</text>
<text transform="translate(290.15 240.5) rotate(0.03)" font-family="Liberation Sans" font-size="9.9" fill="#1a1a1a" textLength="16.2" lengthAdjust="spacingAndGlyphs" stroke="#1a1a1a" stroke-width="0.28">CO<tspan font-size="65%">2</tspan></text>
<text transform="translate(308.75 240.5) rotate(0.03)" font-family="Liberation Sans" font-size="9.9" fill="#1a1a1a" textLength="36.2" lengthAdjust="spacingAndGlyphs" stroke="#1a1a1a" stroke-width="0.28">injection</text>
<text transform="translate(347.85 240.5) rotate(0.03)" font-family="Liberation Sans" font-size="9.9" fill="#1a1a1a" textLength="27.6" lengthAdjust="spacingAndGlyphs" stroke="#1a1a1a" stroke-width="0.28">period</text>
<text transform="translate(303.8 253.8) rotate(0.03)" font-family="Liberation Sans" font-size="8.2" fill="#1a1a1a" textLength="48.3" lengthAdjust="spacingAndGlyphs" stroke="#1a1a1a" stroke-width="0.18">Distance (km)</text>
<text transform="translate(484.85 228.4) rotate(0.03)" font-family="Liberation Sans" font-size="9.9" fill="#1a1a1a" textLength="52.4" lengthAdjust="spacingAndGlyphs" stroke="#1a1a1a" stroke-width="0.28">Coarse-scale</text>
<text transform="translate(539.95 228.4) rotate(0.03)" font-family="Liberation Sans" font-size="9.9" fill="#1a1a1a" textLength="12.4" lengthAdjust="spacingAndGlyphs" stroke="#1a1a1a" stroke-width="0.28">Qp</text>
<text transform="translate(554.55 228.4) rotate(0.03)" font-family="Liberation Sans" font-size="9.9" fill="#1a1a1a" textLength="8.3" lengthAdjust="spacingAndGlyphs" stroke="#1a1a1a" stroke-width="0.28">at</text>
<text transform="translate(565.15 228.4) rotate(0.03)" font-family="Liberation Sans" font-size="9.9" fill="#1a1a1a" textLength="15.2" lengthAdjust="spacingAndGlyphs" stroke="#1a1a1a" stroke-width="0.28">100</text>
<text transform="translate(582.55 228.4) rotate(0.03)" font-family="Liberation Sans" font-size="9.9" fill="#1a1a1a" textLength="22.3" lengthAdjust="spacingAndGlyphs" stroke="#1a1a1a" stroke-width="0.28">years</text>
<text transform="translate(606.85 228.4) rotate(0.03)" font-family="Liberation Sans" font-size="9.9" fill="#1a1a1a" textLength="19.3" lengthAdjust="spacingAndGlyphs" stroke="#1a1a1a" stroke-width="0.28">after</text>
<text transform="translate(628.85 228.4) rotate(0.03)" font-family="Liberation Sans" font-size="9.9" fill="#1a1a1a" textLength="14.3" lengthAdjust="spacingAndGlyphs" stroke="#1a1a1a" stroke-width="0.28">the</text>
<text transform="translate(502.05 240.5) rotate(0.03)" font-family="Liberation Sans" font-size="9.9" fill="#1a1a1a" textLength="41.7" lengthAdjust="spacingAndGlyphs" stroke="#1a1a1a" stroke-width="0.28">cessation</text>
<text transform="translate(546.55 240.5) rotate(0.03)" font-family="Liberation Sans" font-size="9.9" fill="#1a1a1a" textLength="7.5" lengthAdjust="spacingAndGlyphs" stroke="#1a1a1a" stroke-width="0.28">of</text>
<text transform="translate(555.55 240.5) rotate(0.03)" font-family="Liberation Sans" font-size="9.9" fill="#1a1a1a" textLength="14.5" lengthAdjust="spacingAndGlyphs" stroke="#1a1a1a" stroke-width="0.28">CO<tspan font-size="65%">2</tspan></text>
<text transform="translate(572.95 240.5) rotate(0.03)" font-family="Liberation Sans" font-size="9.9" fill="#1a1a1a" textLength="36.5" lengthAdjust="spacingAndGlyphs" stroke="#1a1a1a" stroke-width="0.28">injection</text>
<text transform="translate(542.1 251) rotate(0.03)" font-family="Liberation Sans" font-size="8.2" fill="#1a1a1a" textLength="47.7" lengthAdjust="spacingAndGlyphs" stroke="#1a1a1a" stroke-width="0.18">Distance (km)</text>
<text transform="translate(29.2 38.8) rotate(0.03)" font-family="Liberation Sans" font-size="7.3" fill="#1a1a1a" text-anchor="middle" stroke="#1a1a1a" stroke-width="0.12">0</text>
<text transform="translate(53.63 38.8) rotate(0.03)" font-family="Liberation Sans" font-size="7.3" fill="#1a1a1a" text-anchor="middle" stroke="#1a1a1a" stroke-width="0.12">3</text>
<text transform="translate(78.07 38.8) rotate(0.03)" font-family="Liberation Sans" font-size="7.3" fill="#1a1a1a" text-anchor="middle" stroke="#1a1a1a" stroke-width="0.12">6</text>
<text transform="translate(102.5 38.8) rotate(0.03)" font-family="Liberation Sans" font-size="7.3" fill="#1a1a1a" text-anchor="middle" stroke="#1a1a1a" stroke-width="0.12">9</text>
<text transform="translate(126.93 38.8) rotate(0.03)" font-family="Liberation Sans" font-size="7.3" fill="#1a1a1a" text-anchor="middle" stroke="#1a1a1a" stroke-width="0.12">12</text>
<text transform="translate(151.37 38.8) rotate(0.03)" font-family="Liberation Sans" font-size="7.3" fill="#1a1a1a" text-anchor="middle" stroke="#1a1a1a" stroke-width="0.12">15</text>
<text transform="translate(175.8 38.8) rotate(0.03)" font-family="Liberation Sans" font-size="7.3" fill="#1a1a1a" text-anchor="middle" stroke="#1a1a1a" stroke-width="0.12">18</text>
<text transform="translate(259.7 39.6) rotate(0.03)" font-family="Liberation Sans" font-size="7.3" fill="#1a1a1a" text-anchor="middle" stroke="#1a1a1a" stroke-width="0.12">0</text>
<text transform="translate(283.1 39.6) rotate(0.03)" font-family="Liberation Sans" font-size="7.3" fill="#1a1a1a" text-anchor="middle" stroke="#1a1a1a" stroke-width="0.12">3</text>
<text transform="translate(306.6 39.6) rotate(0.03)" font-family="Liberation Sans" font-size="7.3" fill="#1a1a1a" text-anchor="middle" stroke="#1a1a1a" stroke-width="0.12">6</text>
<text transform="translate(330.2 39.6) rotate(0.03)" font-family="Liberation Sans" font-size="7.3" fill="#1a1a1a" text-anchor="middle" stroke="#1a1a1a" stroke-width="0.12">9</text>
<text transform="translate(353.8 39.6) rotate(0.03)" font-family="Liberation Sans" font-size="7.3" fill="#1a1a1a" text-anchor="middle" stroke="#1a1a1a" stroke-width="0.12">12</text>
<text transform="translate(376.9 39.6) rotate(0.03)" font-family="Liberation Sans" font-size="7.3" fill="#1a1a1a" text-anchor="middle" stroke="#1a1a1a" stroke-width="0.12">15</text>
<text transform="translate(400.4 39.6) rotate(0.03)" font-family="Liberation Sans" font-size="7.3" fill="#1a1a1a" text-anchor="middle" stroke="#1a1a1a" stroke-width="0.12">18</text>
<text transform="translate(487.4 39) rotate(0.03)" font-family="Liberation Sans" font-size="7.3" fill="#1a1a1a" text-anchor="middle" stroke="#1a1a1a" stroke-width="0.12">0</text>
<text transform="translate(513.3 39) rotate(0.03)" font-family="Liberation Sans" font-size="7.3" fill="#1a1a1a" text-anchor="middle" stroke="#1a1a1a" stroke-width="0.12">3</text>
<text transform="translate(539.2 39) rotate(0.03)" font-family="Liberation Sans" font-size="7.3" fill="#1a1a1a" text-anchor="middle" stroke="#1a1a1a" stroke-width="0.12">6</text>
<text transform="translate(565.2 39) rotate(0.03)" font-family="Liberation Sans" font-size="7.3" fill="#1a1a1a" text-anchor="middle" stroke="#1a1a1a" stroke-width="0.12">9</text>
<text transform="translate(584.7 39) rotate(0.03)" font-family="Liberation Sans" font-size="7.3" fill="#1a1a1a" text-anchor="middle" stroke="#1a1a1a" stroke-width="0.12">12</text>
<text transform="translate(609 39) rotate(0.03)" font-family="Liberation Sans" font-size="7.3" fill="#1a1a1a" text-anchor="middle" stroke="#1a1a1a" stroke-width="0.12">15</text>
<text transform="translate(633.1 39) rotate(0.03)" font-family="Liberation Sans" font-size="7.3" fill="#1a1a1a" text-anchor="middle" stroke="#1a1a1a" stroke-width="0.12">18</text>
<text transform="translate(25 259.6) rotate(0.03)" font-family="Liberation Sans" font-size="6.0" fill="#1a1a1a" text-anchor="middle" stroke="#1a1a1a" stroke-width="0.12">0</text>
<text transform="translate(48.4 259.6) rotate(0.03)" font-family="Liberation Sans" font-size="6.0" fill="#1a1a1a" text-anchor="middle" stroke="#1a1a1a" stroke-width="0.12">3</text>
<text transform="translate(74.4 259.6) rotate(0.03)" font-family="Liberation Sans" font-size="6.0" fill="#1a1a1a" text-anchor="middle" stroke="#1a1a1a" stroke-width="0.12">6</text>
<text transform="translate(100.2 259.6) rotate(0.03)" font-family="Liberation Sans" font-size="6.0" fill="#1a1a1a" text-anchor="middle" stroke="#1a1a1a" stroke-width="0.12">9</text>
<text transform="translate(126 259.6) rotate(0.03)" font-family="Liberation Sans" font-size="6.0" fill="#1a1a1a" text-anchor="middle" stroke="#1a1a1a" stroke-width="0.12">12</text>
<text transform="translate(152 259.6) rotate(0.03)" font-family="Liberation Sans" font-size="6.0" fill="#1a1a1a" text-anchor="middle" stroke="#1a1a1a" stroke-width="0.12">15</text>
<text transform="translate(177.8 259.6) rotate(0.03)" font-family="Liberation Sans" font-size="6.0" fill="#1a1a1a" text-anchor="middle" stroke="#1a1a1a" stroke-width="0.12">18</text>
<text transform="translate(251.6 263.5) rotate(0.03)" font-family="Liberation Sans" font-size="6.2" fill="#1a1a1a" text-anchor="middle" stroke="#1a1a1a" stroke-width="0.12">0</text>
<text transform="translate(274.7 263.5) rotate(0.03)" font-family="Liberation Sans" font-size="6.2" fill="#1a1a1a" text-anchor="middle" stroke="#1a1a1a" stroke-width="0.12">3</text>
<text transform="translate(300.7 263.5) rotate(0.03)" font-family="Liberation Sans" font-size="6.2" fill="#1a1a1a" text-anchor="middle" stroke="#1a1a1a" stroke-width="0.12">6</text>
<text transform="translate(326.5 263.5) rotate(0.03)" font-family="Liberation Sans" font-size="6.2" fill="#1a1a1a" text-anchor="middle" stroke="#1a1a1a" stroke-width="0.12">9</text>
<text transform="translate(352.9 263.5) rotate(0.03)" font-family="Liberation Sans" font-size="6.2" fill="#1a1a1a" text-anchor="middle" stroke="#1a1a1a" stroke-width="0.12">12</text>
<text transform="translate(378.7 263.5) rotate(0.03)" font-family="Liberation Sans" font-size="6.2" fill="#1a1a1a" text-anchor="middle" stroke="#1a1a1a" stroke-width="0.12">15</text>
<text transform="translate(404.6 263.5) rotate(0.03)" font-family="Liberation Sans" font-size="6.2" fill="#1a1a1a" text-anchor="middle" stroke="#1a1a1a" stroke-width="0.12">18</text>
<text transform="translate(489.4 260.4) rotate(0.03)" font-family="Liberation Sans" font-size="6.2" fill="#1a1a1a" text-anchor="middle" stroke="#1a1a1a" stroke-width="0.12">0</text>
<text transform="translate(513 260.4) rotate(0.03)" font-family="Liberation Sans" font-size="6.2" fill="#1a1a1a" text-anchor="middle" stroke="#1a1a1a" stroke-width="0.12">3</text>
<text transform="translate(538.5 260.4) rotate(0.03)" font-family="Liberation Sans" font-size="6.2" fill="#1a1a1a" text-anchor="middle" stroke="#1a1a1a" stroke-width="0.12">6</text>
<text transform="translate(564.9 260.4) rotate(0.03)" font-family="Liberation Sans" font-size="6.2" fill="#1a1a1a" text-anchor="middle" stroke="#1a1a1a" stroke-width="0.12">9</text>
<text transform="translate(590.7 260.4) rotate(0.03)" font-family="Liberation Sans" font-size="6.2" fill="#1a1a1a" text-anchor="middle" stroke="#1a1a1a" stroke-width="0.12">12</text>
<text transform="translate(617 260.4) rotate(0.03)" font-family="Liberation Sans" font-size="6.2" fill="#1a1a1a" text-anchor="middle" stroke="#1a1a1a" stroke-width="0.12">15</text>
<text transform="translate(642.7 260.4) rotate(0.03)" font-family="Liberation Sans" font-size="6.2" fill="#1a1a1a" text-anchor="middle" stroke="#1a1a1a" stroke-width="0.12">18</text>
<text transform="translate(24.6 48.09) rotate(0.03)" font-family="Liberation Sans" font-size="7.3" fill="#1a1a1a" text-anchor="end" stroke="#1a1a1a" stroke-width="0.12">2.05</text>
<text transform="translate(24.6 82.59) rotate(0.03)" font-family="Liberation Sans" font-size="7.3" fill="#1a1a1a" text-anchor="end" stroke="#1a1a1a" stroke-width="0.12">2.15</text>
<text transform="translate(24.6 115.99) rotate(0.03)" font-family="Liberation Sans" font-size="7.3" fill="#1a1a1a" text-anchor="end" stroke="#1a1a1a" stroke-width="0.12">2.25</text>
<text transform="translate(24.6 149.59) rotate(0.03)" font-family="Liberation Sans" font-size="7.3" fill="#1a1a1a" text-anchor="end" stroke="#1a1a1a" stroke-width="0.12">2.35</text>
<text transform="translate(24.6 183.19) rotate(0.03)" font-family="Liberation Sans" font-size="7.3" fill="#1a1a1a" text-anchor="end" stroke="#1a1a1a" stroke-width="0.12">2.45</text>
<text transform="translate(255.2 48.94) rotate(0.03)" font-family="Liberation Sans" font-size="7.3" fill="#1a1a1a" text-anchor="end" stroke="#1a1a1a" stroke-width="0.12">2.05</text>
<text transform="translate(255.2 82.39) rotate(0.03)" font-family="Liberation Sans" font-size="7.3" fill="#1a1a1a" text-anchor="end" stroke="#1a1a1a" stroke-width="0.12">2.15</text>
<text transform="translate(255.2 116.09) rotate(0.03)" font-family="Liberation Sans" font-size="7.3" fill="#1a1a1a" text-anchor="end" stroke="#1a1a1a" stroke-width="0.12">2.25</text>
<text transform="translate(255.2 149.09) rotate(0.03)" font-family="Liberation Sans" font-size="7.3" fill="#1a1a1a" text-anchor="end" stroke="#1a1a1a" stroke-width="0.12">2.35</text>
<text transform="translate(255.2 182.69) rotate(0.03)" font-family="Liberation Sans" font-size="7.3" fill="#1a1a1a" text-anchor="end" stroke="#1a1a1a" stroke-width="0.12">2.45</text>
<text transform="translate(484.8 47.89) rotate(0.03)" font-family="Liberation Sans" font-size="7.3" fill="#1a1a1a" text-anchor="end" stroke="#1a1a1a" stroke-width="0.12">2.05</text>
<text transform="translate(484.8 81.79) rotate(0.03)" font-family="Liberation Sans" font-size="7.3" fill="#1a1a1a" text-anchor="end" stroke="#1a1a1a" stroke-width="0.12">2.15</text>
<text transform="translate(484.8 115.49) rotate(0.03)" font-family="Liberation Sans" font-size="7.3" fill="#1a1a1a" text-anchor="end" stroke="#1a1a1a" stroke-width="0.12">2.25</text>
<text transform="translate(484.8 149.09) rotate(0.03)" font-family="Liberation Sans" font-size="7.3" fill="#1a1a1a" text-anchor="end" stroke="#1a1a1a" stroke-width="0.12">2.35</text>
<text transform="translate(484.8 182.79) rotate(0.03)" font-family="Liberation Sans" font-size="7.3" fill="#1a1a1a" text-anchor="end" stroke="#1a1a1a" stroke-width="0.12">2.45</text>
<text transform="translate(21.9 265.32) rotate(0.03)" font-family="Liberation Sans" font-size="5.7" fill="#1a1a1a" text-anchor="end" stroke="#1a1a1a" stroke-width="0.12">2.05</text>
<text transform="translate(21.9 294.32) rotate(0.03)" font-family="Liberation Sans" font-size="5.7" fill="#1a1a1a" text-anchor="end" stroke="#1a1a1a" stroke-width="0.12">2.15</text>
<text transform="translate(21.9 326.72) rotate(0.03)" font-family="Liberation Sans" font-size="5.7" fill="#1a1a1a" text-anchor="end" stroke="#1a1a1a" stroke-width="0.12">2.25</text>
<text transform="translate(21.9 360.22) rotate(0.03)" font-family="Liberation Sans" font-size="5.7" fill="#1a1a1a" text-anchor="end" stroke="#1a1a1a" stroke-width="0.12">2.35</text>
<text transform="translate(21.9 392.52) rotate(0.03)" font-family="Liberation Sans" font-size="5.7" fill="#1a1a1a" text-anchor="end" stroke="#1a1a1a" stroke-width="0.12">2.45</text>
<text transform="translate(248.7 269.72) rotate(0.03)" font-family="Liberation Sans" font-size="5.7" fill="#1a1a1a" text-anchor="end" stroke="#1a1a1a" stroke-width="0.12">2.05</text>
<text transform="translate(248.7 299.42) rotate(0.03)" font-family="Liberation Sans" font-size="5.7" fill="#1a1a1a" text-anchor="end" stroke="#1a1a1a" stroke-width="0.12">2.15</text>
<text transform="translate(248.7 331.82) rotate(0.03)" font-family="Liberation Sans" font-size="5.7" fill="#1a1a1a" text-anchor="end" stroke="#1a1a1a" stroke-width="0.12">2.25</text>
<text transform="translate(248.7 364.12) rotate(0.03)" font-family="Liberation Sans" font-size="5.7" fill="#1a1a1a" text-anchor="end" stroke="#1a1a1a" stroke-width="0.12">2.35</text>
<text transform="translate(248.7 396.12) rotate(0.03)" font-family="Liberation Sans" font-size="5.7" fill="#1a1a1a" text-anchor="end" stroke="#1a1a1a" stroke-width="0.12">2.45</text>
<text transform="translate(486.4 266.32) rotate(0.03)" font-family="Liberation Sans" font-size="5.7" fill="#1a1a1a" text-anchor="end" stroke="#1a1a1a" stroke-width="0.12">2.05</text>
<text transform="translate(486.4 295.82) rotate(0.03)" font-family="Liberation Sans" font-size="5.7" fill="#1a1a1a" text-anchor="end" stroke="#1a1a1a" stroke-width="0.12">2.15</text>
<text transform="translate(486.4 328.02) rotate(0.03)" font-family="Liberation Sans" font-size="5.7" fill="#1a1a1a" text-anchor="end" stroke="#1a1a1a" stroke-width="0.12">2.25</text>
<text transform="translate(486.4 360.52) rotate(0.03)" font-family="Liberation Sans" font-size="5.7" fill="#1a1a1a" text-anchor="end" stroke="#1a1a1a" stroke-width="0.12">2.35</text>
<text transform="translate(486.4 392.72) rotate(0.03)" font-family="Liberation Sans" font-size="5.7" fill="#1a1a1a" text-anchor="end" stroke="#1a1a1a" stroke-width="0.12">2.45</text>
<text transform="translate(6 132.6) rotate(-90.03)" font-family="Liberation Sans" font-size="7.6" fill="#1a1a1a" textLength="40.5" lengthAdjust="spacingAndGlyphs" stroke="#1a1a1a" stroke-width="0.18">Depth (km)</text>
<text transform="translate(237 132.7) rotate(-90.03)" font-family="Liberation Sans" font-size="7.6" fill="#1a1a1a" textLength="40" lengthAdjust="spacingAndGlyphs" stroke="#1a1a1a" stroke-width="0.18">Depth (km)</text>
<text transform="translate(467.6 130.8) rotate(-90.03)" font-family="Liberation Sans" font-size="7.6" fill="#1a1a1a" textLength="43.9" lengthAdjust="spacingAndGlyphs" stroke="#1a1a1a" stroke-width="0.18">Depth (km)</text>
<text transform="translate(7 346.2) rotate(-90.03)" font-family="Liberation Sans" font-size="7.4" fill="#1a1a1a" textLength="39.7" lengthAdjust="spacingAndGlyphs" stroke="#1a1a1a" stroke-width="0.18">Depth (km)</text>
<text transform="translate(234.4 350) rotate(-90.03)" font-family="Liberation Sans" font-size="7.4" fill="#1a1a1a" textLength="39.8" lengthAdjust="spacingAndGlyphs" stroke="#1a1a1a" stroke-width="0.18">Depth (km)</text>
<text transform="translate(472 346.9) rotate(-90.03)" font-family="Liberation Sans" font-size="7.4" fill="#1a1a1a" textLength="39.8" lengthAdjust="spacingAndGlyphs" stroke="#1a1a1a" stroke-width="0.18">Depth (km)</text>
<text transform="translate(218.3 117.6) rotate(-90.03)" font-family="Liberation Sans" font-size="8.0" fill="#1a1a1a" textLength="26.8" lengthAdjust="spacingAndGlyphs" stroke="#1a1a1a" stroke-width="0.12">(km/s)</text>
<text transform="translate(218.3 132.7) rotate(-90.03)" font-family="Liberation Sans" font-size="8" fill="#1a1a1a" textLength="12" lengthAdjust="spacingAndGlyphs" stroke="#1a1a1a" stroke-width="0.05"><tspan font-family="Liberation Serif" font-size="8.8">V</tspan><tspan font-family="Liberation Serif" font-size="7.2" dy="0.6">P</tspan></text>
<text transform="translate(442.9 127.6) rotate(-90.03)" font-family="Liberation Sans" font-size="8.0" fill="#1a1a1a" textLength="26.8" lengthAdjust="spacingAndGlyphs" stroke="#1a1a1a" stroke-width="0.12">(km/s)</text>
<text transform="translate(442.9 143.8) rotate(-90.03)" font-family="Liberation Sans" font-size="8" fill="#1a1a1a" textLength="12" lengthAdjust="spacingAndGlyphs" stroke="#1a1a1a" stroke-width="0.05"><tspan font-family="Liberation Serif" font-size="8.8">V</tspan><tspan font-family="Liberation Serif" font-size="7.2" dy="0.6">P</tspan></text>
<text transform="translate(682.4 127.6) rotate(-90.03)" font-family="Liberation Sans" font-size="8.0" fill="#1a1a1a" textLength="26.8" lengthAdjust="spacingAndGlyphs" stroke="#1a1a1a" stroke-width="0.12">(km/s)</text>
<text transform="translate(682.4 143.8) rotate(-90.03)" font-family="Liberation Sans" font-size="8" fill="#1a1a1a" textLength="12" lengthAdjust="spacingAndGlyphs" stroke="#1a1a1a" stroke-width="0.05"><tspan font-family="Liberation Serif" font-size="8.8">V</tspan><tspan font-family="Liberation Serif" font-size="7.2" dy="0.6">P</tspan></text>
<text transform="translate(217.9 337) rotate(-90.03)" font-family="Liberation Sans" font-size="9.0" fill="#1a1a1a" textLength="16.9" lengthAdjust="spacingAndGlyphs" stroke="#1a1a1a" stroke-width="0.15">1/Qp</text>
<text transform="translate(443.6 337) rotate(-90.03)" font-family="Liberation Sans" font-size="9.0" fill="#1a1a1a" textLength="16.9" lengthAdjust="spacingAndGlyphs" stroke="#1a1a1a" stroke-width="0.15">1/Qp</text>
<text transform="translate(681.7 337.1) rotate(-90.03)" font-family="Liberation Sans" font-size="9.0" fill="#1a1a1a" textLength="17.5" lengthAdjust="spacingAndGlyphs" stroke="#1a1a1a" stroke-width="0.15">1/Qp</text>
<text transform="translate(95.3 199) rotate(0.03)" font-family="Liberation Sans" font-size="15.8" fill="#1a1a1a" textLength="17.5" lengthAdjust="spacingAndGlyphs" stroke="#1a1a1a" stroke-width="0.3">(a)</text>
<text transform="translate(324.3 199) rotate(0.03)" font-family="Liberation Sans" font-size="15.8" fill="#1a1a1a" textLength="19.4" lengthAdjust="spacingAndGlyphs" stroke="#1a1a1a" stroke-width="0.3">(b)</text>
<text transform="translate(560.1 199) rotate(0.03)" font-family="Liberation Sans" font-size="15.8" fill="#1a1a1a" textLength="17.6" lengthAdjust="spacingAndGlyphs" stroke="#1a1a1a" stroke-width="0.3">(c)</text>
<text transform="translate(95 412.1) rotate(0.03)" font-family="Liberation Sans" font-size="15.8" fill="#1a1a1a" textLength="19.7" lengthAdjust="spacingAndGlyphs" stroke="#1a1a1a" stroke-width="0.3">(d)</text>
<text transform="translate(324.3 412.1) rotate(0.03)" font-family="Liberation Sans" font-size="15.8" fill="#1a1a1a" textLength="18.3" lengthAdjust="spacingAndGlyphs" stroke="#1a1a1a" stroke-width="0.3">(e)</text>
<text transform="translate(566.7 412.1) rotate(0.03)" font-family="Liberation Sans" font-size="15.8" fill="#1a1a1a" textLength="16.4" lengthAdjust="spacingAndGlyphs" stroke="#1a1a1a" stroke-width="0.3">(f)</text>
</svg>
</body></html>
